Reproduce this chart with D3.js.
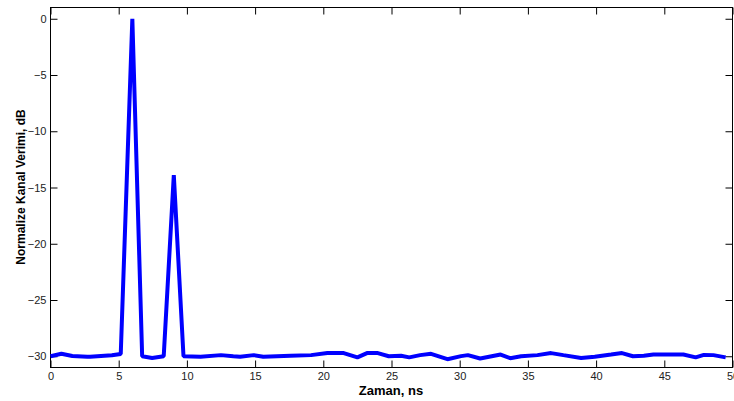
<!DOCTYPE html>
<html>
<head>
<meta charset="utf-8">
<script src="https://cdn.jsdelivr.net/npm/d3@7"></script>
<style>
    body { margin: 0; background: #fff; }
    svg { display: block; font-family: "Liberation Sans", Arial, sans-serif; }
</style>
</head>
<body>
<script>
// time axis (ns) and normalized channel response (dB)
const timeNs = [0, 0.8, 1.6, 2.7, 2.9, 3.7, 4.5, 5.15, 6.0, 6.72, 7.45, 8.3, 9.04, 9.75,
    11.0, 12.5, 13.4, 13.9, 14.9, 15.6, 17.6, 19.1, 20.3, 21.5, 22.5, 23.2, 24.0, 24.8,
    25.7, 26.3, 27.1, 27.9, 29.1, 30.1, 30.6, 31.5, 33.0, 33.7, 34.5, 35.7, 36.7, 37.6,
    38.9, 39.9, 41.1, 41.9, 42.7, 43.5, 44.2, 46.4, 47.3, 47.9, 48.6, 49.5];
const responseDb = [-30.0, -29.78, -29.98, -30.05, -30.05, -29.98, -29.92, -29.8, 0, -30.0, -30.15, -30.0, -13.9, -30.0,
    -30.05, -29.9, -30.0, -30.05, -29.9, -30.05, -29.95, -29.9, -29.72, -29.72, -30.1, -29.72, -29.72, -30.0,
    -29.95, -30.1, -29.9, -29.78, -30.26, -29.99, -29.9, -30.2, -29.85, -30.17, -30.0, -29.9, -29.72, -29.9,
    -30.15, -30.04, -29.85, -29.72, -30.0, -29.95, -29.85, -29.85, -30.1, -29.88, -29.9, -30.1];
const xTicks = [0, 5, 10, 15, 20, 25, 30, 35, 40, 45, 50];
const yTicks = [0, -5, -10, -15, -20, -25, -30];

const W = 734, H = 401;
const margin = { top: 7, right: 2, bottom: 34, left: 50 };
const iw = W - margin.left - margin.right;
const ih = H - margin.top - margin.bottom;

const svg = d3.select("body").append("svg")
    .attr("width", W)
    .attr("height", H);

const x = d3.scaleLinear().domain([0, 50]).range([0, iw]);
const y = d3.scaleLinear().domain([-31, 1]).range([ih, 0]);

const g = svg.append("g")
    .attr("transform", `translate(${margin.left + 0.5},${margin.top + 0.5})`);

// inward ticks on all four sides, matlab style
const tickLen = 7;
const styleAxis = sel => {
    sel.select(".domain").remove();
    sel.selectAll(".tick line").attr("stroke", "#000");
    sel.selectAll(".tick text").attr("fill", "#222").style("font-size", "11px");
};

g.append("g")
    .attr("transform", `translate(0,${ih})`)
    .call(d3.axisBottom(x).tickValues(xTicks).tickSize(-tickLen).tickPadding(5).tickFormat(d3.format("d")))
    .call(styleAxis);

g.append("g")
    .call(d3.axisTop(x).tickValues(xTicks).tickSize(-tickLen).tickFormat(""))
    .call(styleAxis);

g.append("g")
    .call(d3.axisLeft(y).tickValues(yTicks).tickSize(-tickLen).tickPadding(4).tickFormat(d3.format("d")))
    .call(styleAxis);

g.append("g")
    .attr("transform", `translate(${iw},0)`)
    .call(d3.axisRight(y).tickValues(yTicks).tickSize(-tickLen).tickFormat(""))
    .call(styleAxis);

g.append("rect")
    .attr("width", iw)
    .attr("height", ih)
    .attr("fill", "none")
    .attr("stroke", "#000");

const line = d3.line()
    .x((d, i) => x(timeNs[i]))
    .y(d => y(d));

g.append("path")
    .datum(responseDb)
    .attr("d", line)
    .attr("fill", "none")
    .attr("stroke", "#0000ff")
    .attr("stroke-width", 4)
    .attr("stroke-linejoin", "bevel");

svg.append("text")
    .attr("x", margin.left + iw / 2)
    .attr("y", 395)
    .attr("text-anchor", "middle")
    .style("font-size", "13px")
    .style("font-weight", "bold")
    .text("Zaman, ns");

svg.append("text")
    .attr("transform", `translate(25,${margin.top + ih / 2}) rotate(-90)`)
    .attr("text-anchor", "middle")
    .style("font-size", "12px")
    .style("font-weight", "bold")
    .text("Normalize Kanal Verimi, dB");
</script>
</body>
</html>
